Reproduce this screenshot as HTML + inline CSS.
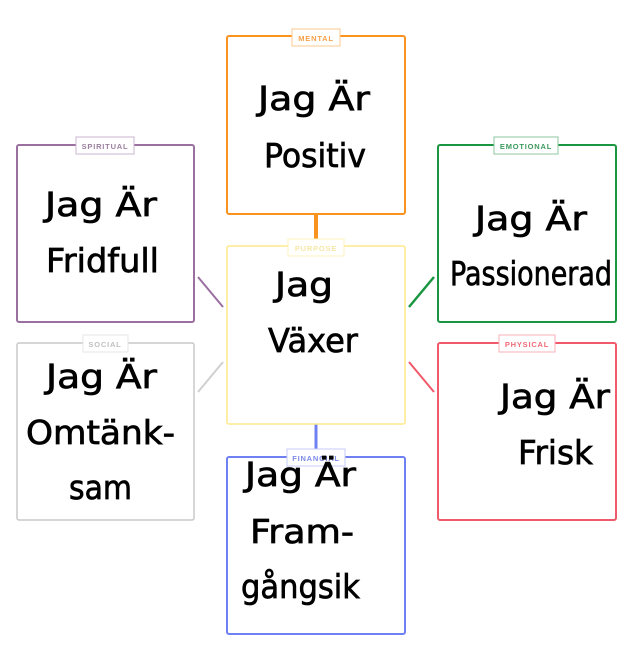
<!DOCTYPE html>
<html><head><meta charset="utf-8"><style>
html,body{margin:0;padding:0;background:#fff;width:628px;height:652px;overflow:hidden}
svg{display:block}
.t{font-family:"DejaVu Sans","Liberation Sans",sans-serif;font-size:33px;fill:#000;stroke:#000;stroke-width:0.7px}
.tab{font-family:"Liberation Sans",sans-serif;font-size:7.5px;font-weight:bold;letter-spacing:0.8px}
</style></head><body>
<svg width="628" height="652" viewBox="0 0 628 652" xmlns="http://www.w3.org/2000/svg">
<line x1="316" y1="214" x2="316" y2="246" stroke="#f7931e" stroke-width="4"/>
<line x1="316" y1="424" x2="316" y2="457" stroke="#6f80f3" stroke-width="3"/>
<line x1="198" y1="277" x2="223" y2="307" stroke="#9b6fa0" stroke-width="2"/>
<line x1="198" y1="392" x2="223" y2="362" stroke="#d0d0d0" stroke-width="2"/>
<line x1="409" y1="307" x2="434" y2="277" stroke="#1a9641" stroke-width="2.5"/>
<line x1="409" y1="362" x2="434" y2="392" stroke="#f05a6a" stroke-width="2"/>
<rect x="227" y="36" width="178" height="178" rx="2" fill="#fff" stroke="#f7931e" stroke-width="2"/>
<rect x="17" y="145" width="177" height="177" rx="2" fill="#fff" stroke="#9b6fa0" stroke-width="2"/>
<rect x="227" y="246" width="178" height="178" rx="2" fill="#fff" stroke="#fde98a" stroke-width="1.5"/>
<rect x="438" y="145" width="178" height="177" rx="2" fill="#fff" stroke="#1a9641" stroke-width="2"/>
<rect x="17" y="343" width="177" height="177" rx="2" fill="#fff" stroke="#c8c8c8" stroke-width="1.5"/>
<rect x="438" y="343" width="178" height="177" rx="2" fill="#fff" stroke="#f05a6a" stroke-width="2"/>
<rect x="227" y="457" width="178" height="177" rx="2" fill="#fff" stroke="#6f80f3" stroke-width="2"/>
<rect x="292" y="29" width="48" height="17" fill="#fff" stroke="#fcc88f" stroke-width="1"/>
<text class="tab" x="316" y="41" text-anchor="middle" fill="#f7a04a">MENTAL</text>
<rect x="76" y="137" width="58" height="17" fill="#fff" stroke="#cbb6cf" stroke-width="1"/>
<text class="tab" x="105" y="149" text-anchor="middle" fill="#9b7fa0">SPIRITUAL</text>
<rect x="288" y="239" width="56" height="17" fill="#fff" stroke="#fdf0b8" stroke-width="1"/>
<text class="tab" x="316" y="251" text-anchor="middle" fill="#f6e7a6">PURPOSE</text>
<rect x="494" y="137" width="64" height="17" fill="#fff" stroke="#8cc7a0" stroke-width="1"/>
<text class="tab" x="526" y="149" text-anchor="middle" fill="#3c9a5e">EMOTIONAL</text>
<rect x="83" y="335" width="45" height="17" fill="#fff" stroke="#e6e6e6" stroke-width="1"/>
<text class="tab" x="105" y="347" text-anchor="middle" fill="#c0c0c0">SOCIAL</text>
<rect x="499" y="335" width="56" height="17" fill="#fff" stroke="#f8b2b8" stroke-width="1"/>
<text class="tab" x="527" y="347" text-anchor="middle" fill="#f06a78">PHYSICAL</text>
<rect x="287" y="449" width="58" height="17" fill="#fff" stroke="#c4cbf9" stroke-width="1"/>
<text class="tab" x="316" y="461" text-anchor="middle" fill="#7d8ae8">FINANCIAL</text>
<text class="t" x="258" y="110" textLength="112" lengthAdjust="spacingAndGlyphs">Jag Är</text>
<text class="t" x="264" y="167" textLength="102" lengthAdjust="spacingAndGlyphs">Positiv</text>
<text class="t" x="45" y="216" textLength="112" lengthAdjust="spacingAndGlyphs">Jag Är</text>
<text class="t" x="46" y="272" textLength="113" lengthAdjust="spacingAndGlyphs">Fridfull</text>
<text class="t" x="275" y="296" textLength="58" lengthAdjust="spacingAndGlyphs">Jag</text>
<text class="t" x="268" y="352" textLength="90" lengthAdjust="spacingAndGlyphs">Växer</text>
<text class="t" x="475" y="230" textLength="112" lengthAdjust="spacingAndGlyphs">Jag Är</text>
<text class="t" x="450" y="285" textLength="162" lengthAdjust="spacingAndGlyphs">Passionerad</text>
<text class="t" x="46" y="388" textLength="111" lengthAdjust="spacingAndGlyphs">Jag Är</text>
<text class="t" x="26" y="444" textLength="149" lengthAdjust="spacingAndGlyphs">Omtänk-</text>
<text class="t" x="69" y="499" textLength="63" lengthAdjust="spacingAndGlyphs">sam</text>
<text class="t" x="500" y="408" textLength="110" lengthAdjust="spacingAndGlyphs">Jag Är</text>
<text class="t" x="518" y="464" textLength="75" lengthAdjust="spacingAndGlyphs">Frisk</text>
<text class="t" x="245" y="486" textLength="111" lengthAdjust="spacingAndGlyphs">Jag Är</text>
<text class="t" x="250" y="543" textLength="104" lengthAdjust="spacingAndGlyphs">Fram-</text>
<text class="t" x="241" y="598" textLength="119" lengthAdjust="spacingAndGlyphs">gångsik</text>
</svg>
</body></html>
